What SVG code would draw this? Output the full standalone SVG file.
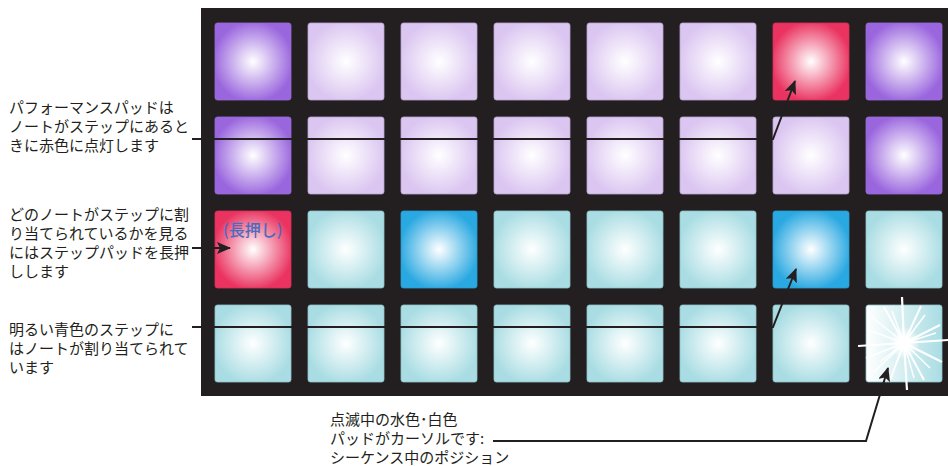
<svg xmlns="http://www.w3.org/2000/svg" width="948" height="466" viewBox="0 0 948 466">
  <style>
    .note { font-family: "Noto Sans CJK JP", "Liberation Sans", sans-serif; font-size: 15px; fill: #231f20; }
    .hold { font-family: "Noto Sans CJK JP", "Liberation Sans", sans-serif; font-size: 16px; font-weight: 500; fill: #4a6cc0; }
    .pad { stroke-width: 0.8; }
    .purple { fill: url(#gPurple); stroke: #9a6ad8; }
    .lilac { fill: url(#gLilac); stroke: #b9a6cf; }
    .red { fill: url(#gRed); stroke: #d83058; }
    .cyan { fill: url(#gCyan); stroke: #90c4cb; }
    .blue { fill: url(#gBlue); stroke: #2a9fd3; }
    .wire { fill: none; stroke: #231f20; stroke-width: 2; }
    .ray { stroke: #ffffff; stroke-linecap: butt; }
  </style>
  <defs>
    <radialGradient id="gPurple" cx="0.5" cy="0.5" r="0.62">
      <stop offset="0" stop-color="#ffffff"/>
      <stop offset="0.85" stop-color="#9a66de"/>
    </radialGradient>
    <radialGradient id="gLilac" cx="0.5" cy="0.5" r="0.62">
      <stop offset="0" stop-color="#ffffff"/>
      <stop offset="0.85" stop-color="#dbc5f1"/>
    </radialGradient>
    <radialGradient id="gRed" cx="0.5" cy="0.5" r="0.62">
      <stop offset="0" stop-color="#ffffff"/>
      <stop offset="0.85" stop-color="#ea3360"/>
    </radialGradient>
    <radialGradient id="gCyan" cx="0.5" cy="0.5" r="0.62">
      <stop offset="0" stop-color="#ffffff"/>
      <stop offset="0.85" stop-color="#a9dde3"/>
    </radialGradient>
    <radialGradient id="gBlue" cx="0.5" cy="0.5" r="0.62">
      <stop offset="0" stop-color="#ffffff"/>
      <stop offset="0.85" stop-color="#29a8e1"/>
    </radialGradient>
    <linearGradient id="gFlash" x1="0" y1="0" x2="1" y2="0">
      <stop offset="0" stop-color="#ffffff"/>
      <stop offset="1" stop-color="#a9dde3"/>
    </linearGradient>
    <radialGradient id="gCore" cx="0.5" cy="0.5" r="0.5">
      <stop offset="0" stop-color="#ffffff" stop-opacity="1"/>
      <stop offset="0.4" stop-color="#ffffff" stop-opacity="0.9"/>
      <stop offset="1" stop-color="#ffffff" stop-opacity="0"/>
    </radialGradient>
    <marker id="arrow" markerWidth="15" markerHeight="12" refX="13" refY="6" orient="auto" markerUnits="userSpaceOnUse">
      <path d="M0,0 L14,6 L0,12 L3,6 z" fill="#231f20"/>
    </marker>
  </defs>

  <!-- pad grid housing -->
  <rect id="housing" x="201" y="8" width="747" height="388" fill="#231f20"/>

  <!-- row 1 -->
  <g id="pad-r1c1"><rect class="pad purple" x="215" y="23" width="76" height="77" rx="2.5"/></g>
  <g id="pad-r1c2"><rect class="pad lilac" x="308" y="23" width="76" height="77" rx="2.5"/></g>
  <g id="pad-r1c3"><rect class="pad lilac" x="401" y="23" width="76" height="77" rx="2.5"/></g>
  <g id="pad-r1c4"><rect class="pad lilac" x="494" y="23" width="76" height="77" rx="2.5"/></g>
  <g id="pad-r1c5"><rect class="pad lilac" x="587" y="23" width="76" height="77" rx="2.5"/></g>
  <g id="pad-r1c6"><rect class="pad lilac" x="680" y="23" width="76" height="77" rx="2.5"/></g>
  <g id="pad-r1c7"><rect class="pad red" x="773" y="23" width="76" height="77" rx="2.5"/></g>
  <g id="pad-r1c8"><rect class="pad purple" x="866" y="23" width="76" height="77" rx="2.5"/></g>

  <!-- row 2 -->
  <g id="pad-r2c1"><rect class="pad purple" x="215" y="117" width="76" height="77" rx="2.5"/></g>
  <g id="pad-r2c2"><rect class="pad lilac" x="308" y="117" width="76" height="77" rx="2.5"/></g>
  <g id="pad-r2c3"><rect class="pad lilac" x="401" y="117" width="76" height="77" rx="2.5"/></g>
  <g id="pad-r2c4"><rect class="pad lilac" x="494" y="117" width="76" height="77" rx="2.5"/></g>
  <g id="pad-r2c5"><rect class="pad lilac" x="587" y="117" width="76" height="77" rx="2.5"/></g>
  <g id="pad-r2c6"><rect class="pad lilac" x="680" y="117" width="76" height="77" rx="2.5"/></g>
  <g id="pad-r2c7"><rect class="pad lilac" x="773" y="117" width="76" height="77" rx="2.5"/></g>
  <g id="pad-r2c8"><rect class="pad purple" x="866" y="117" width="76" height="77" rx="2.5"/></g>

  <!-- row 3 -->
  <g id="pad-r3c1">
    <rect class="pad red" x="215" y="211" width="76" height="77" rx="2.5"/>
    <text class="hold" x="223" y="236">(長押し)</text>
  </g>
  <g id="pad-r3c2"><rect class="pad cyan" x="308" y="211" width="76" height="77" rx="2.5"/></g>
  <g id="pad-r3c3"><rect class="pad blue" x="401" y="211" width="76" height="77" rx="2.5"/></g>
  <g id="pad-r3c4"><rect class="pad cyan" x="494" y="211" width="76" height="77" rx="2.5"/></g>
  <g id="pad-r3c5"><rect class="pad cyan" x="587" y="211" width="76" height="77" rx="2.5"/></g>
  <g id="pad-r3c6"><rect class="pad cyan" x="680" y="211" width="76" height="77" rx="2.5"/></g>
  <g id="pad-r3c7"><rect class="pad blue" x="773" y="211" width="76" height="77" rx="2.5"/></g>
  <g id="pad-r3c8"><rect class="pad cyan" x="866" y="211" width="76" height="77" rx="2.5"/></g>

  <!-- row 4 -->
  <g id="pad-r4c1"><rect class="pad cyan" x="215" y="305" width="76" height="77" rx="2.5"/></g>
  <g id="pad-r4c2"><rect class="pad cyan" x="308" y="305" width="76" height="77" rx="2.5"/></g>
  <g id="pad-r4c3"><rect class="pad cyan" x="401" y="305" width="76" height="77" rx="2.5"/></g>
  <g id="pad-r4c4"><rect class="pad cyan" x="494" y="305" width="76" height="77" rx="2.5"/></g>
  <g id="pad-r4c5"><rect class="pad cyan" x="587" y="305" width="76" height="77" rx="2.5"/></g>
  <g id="pad-r4c6"><rect class="pad cyan" x="680" y="305" width="76" height="77" rx="2.5"/></g>
  <g id="pad-r4c7"><rect class="pad cyan" x="773" y="305" width="76" height="77" rx="2.5"/></g>
  <!-- flashing cursor pad with starburst -->
  <g id="pad-r4c8">
    <rect x="866" y="305" width="76" height="77" rx="2.5" fill="url(#gFlash)" stroke="#90c4cb" stroke-width="0.8"/>
    <circle cx="904" cy="343" r="16" fill="url(#gCore)"/>
    <g class="ray">
      <line x1="904" y1="343" x2="902" y2="297" stroke-width="2.2"/>
      <line x1="904" y1="343" x2="907" y2="390" stroke-width="2.2"/>
      <line x1="904" y1="343" x2="858" y2="346" stroke-width="2.2"/>
      <line x1="904" y1="343" x2="948" y2="340" stroke-width="2.2"/>
      <line x1="904" y1="343" x2="884" y2="307" stroke-width="2"/>
      <line x1="904" y1="343" x2="872" y2="317" stroke-width="1.6"/>
      <line x1="904" y1="343" x2="892" y2="311" stroke-width="1.4"/>
      <line x1="904" y1="343" x2="868" y2="330" stroke-width="1.4"/>
      <line x1="904" y1="343" x2="921" y2="306" stroke-width="2"/>
      <line x1="904" y1="343" x2="925" y2="315" stroke-width="1.5"/>
      <line x1="904" y1="343" x2="940" y2="325" stroke-width="2"/>
      <line x1="904" y1="343" x2="936" y2="333" stroke-width="1.4"/>
      <line x1="904" y1="343" x2="942" y2="362" stroke-width="2"/>
      <line x1="904" y1="343" x2="930" y2="368" stroke-width="1.5"/>
      <line x1="904" y1="343" x2="924" y2="380" stroke-width="2"/>
      <line x1="904" y1="343" x2="914" y2="378" stroke-width="1.4"/>
      <line x1="904" y1="343" x2="890" y2="380" stroke-width="2"/>
      <line x1="904" y1="343" x2="874" y2="372" stroke-width="1.6"/>
      <line x1="904" y1="343" x2="866" y2="358" stroke-width="1.5"/>
      <line x1="904" y1="343" x2="880" y2="362" stroke-width="1.3"/>
    </g>
  </g>

  <!-- callout texts -->
  <g id="note-red">
    <text class="note" x="9" y="113">パフォーマンスパッドは</text>
    <text class="note" x="9" y="132">ノートがステップにあると</text>
    <text class="note" x="9" y="151">きに赤色に点灯します</text>
  </g>
  <g id="note-hold">
    <text class="note" x="9" y="220">どのノートがステップに割</text>
    <text class="note" x="9" y="239">り当てられているかを見る</text>
    <text class="note" x="9" y="258">にはステップパッドを長押</text>
    <text class="note" x="9" y="277">しします</text>
  </g>
  <g id="note-blue">
    <text class="note" x="9" y="335">明るい青色のステップに</text>
    <text class="note" x="9" y="354">はノートが割り当てられて</text>
    <text class="note" x="9" y="373">います</text>
  </g>
  <g id="note-cursor">
    <text class="note" x="330" y="425">点滅中の水色･白色</text>
    <text class="note" x="330" y="444">パッドがカーソルです:</text>
    <text class="note" x="330" y="463">シーケンス中のポジション</text>
  </g>

  <!-- connectors -->
  <g id="connectors">
    <path class="wire" d="M192,139 H773 L795,81" marker-end="url(#arrow)"/>
    <path class="wire" d="M192,248 H230" marker-end="url(#arrow)"/>
    <path class="wire" d="M192,327 H773 L796,269" marker-end="url(#arrow)"/>
    <path class="wire" d="M493,441 H866 L888,368" marker-end="url(#arrow)"/>
  </g>
</svg>
